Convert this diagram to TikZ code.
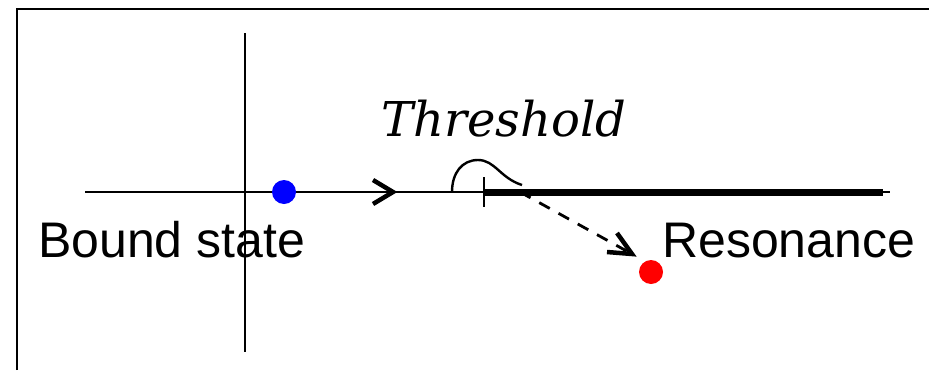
\documentclass[tikz,border=0pt]{standalone}
\usepackage{fontspec}
\setsansfont{Liberation Sans}
\newfontfamily\thrfont{DejaVu Serif}
\usetikzlibrary{arrows.meta}
\begin{document}
\begin{tikzpicture}[x=1pt,y=-1pt,
  axisline/.style={line width=2.4pt},
  dotnode/.style={circle,inner sep=0pt,minimum size=24pt},
  lbl/.style={font=\fontsize{50}{60}\selectfont\sffamily,inner sep=0pt,anchor=base west},
]
\useasboundingbox (0,0) rectangle (929,370);
% frame
\draw[line width=2.5pt] (17,370) -- (17,9) -- (929,9);
% axes
\coordinate (vtop) at (245,33);
\coordinate (vbot) at (245,352);
\coordinate (hl) at (85,192);
\coordinate (hr) at (890,192);
\coordinate (thr) at (484,192);
\coordinate (cutend) at (883,192);
\draw[axisline] (vtop) -- (vbot);
\draw[axisline] (hl) -- (hr);
\draw[line width=7pt] (thr) -- (cutend);
\draw[line width=2.4pt] (484,177) -- (484,207);
% direction chevron
\draw[line width=4.5pt,line join=miter] (373,180) -- (393,192) -- (373,204);
% contour bump
\draw[line width=2.4pt] (452,192) .. controls (452,173) and (462,160) .. (478,160)
  .. controls (495,160) and (500,178) .. (522,185);
% dots
\node[dotnode,fill=blue] (bs) at (284,192) {};
\node[dotnode,fill=red] (res) at (651,272) {};
% dashed arrow
\coordinate (dstart) at (520,192);
\coordinate (dend) at (632,254);
\draw[line width=2.8pt,dash pattern=on 12pt off 10pt] (dstart) -- (dend);
\draw[line width=4.5pt,line join=miter] (617,233) -- (dend) -- (607,252);
% labels
\node[lbl] (bstxt) at (38,257) {Bound state};
\node[lbl] (restxt) at (662,257) {Resonance};
\node[font=\fontsize{48}{58}\selectfont\thrfont\itshape,inner sep=0pt,anchor=base] (thtxt) at (504,136) {Threshold};
\end{tikzpicture}
\end{document}
